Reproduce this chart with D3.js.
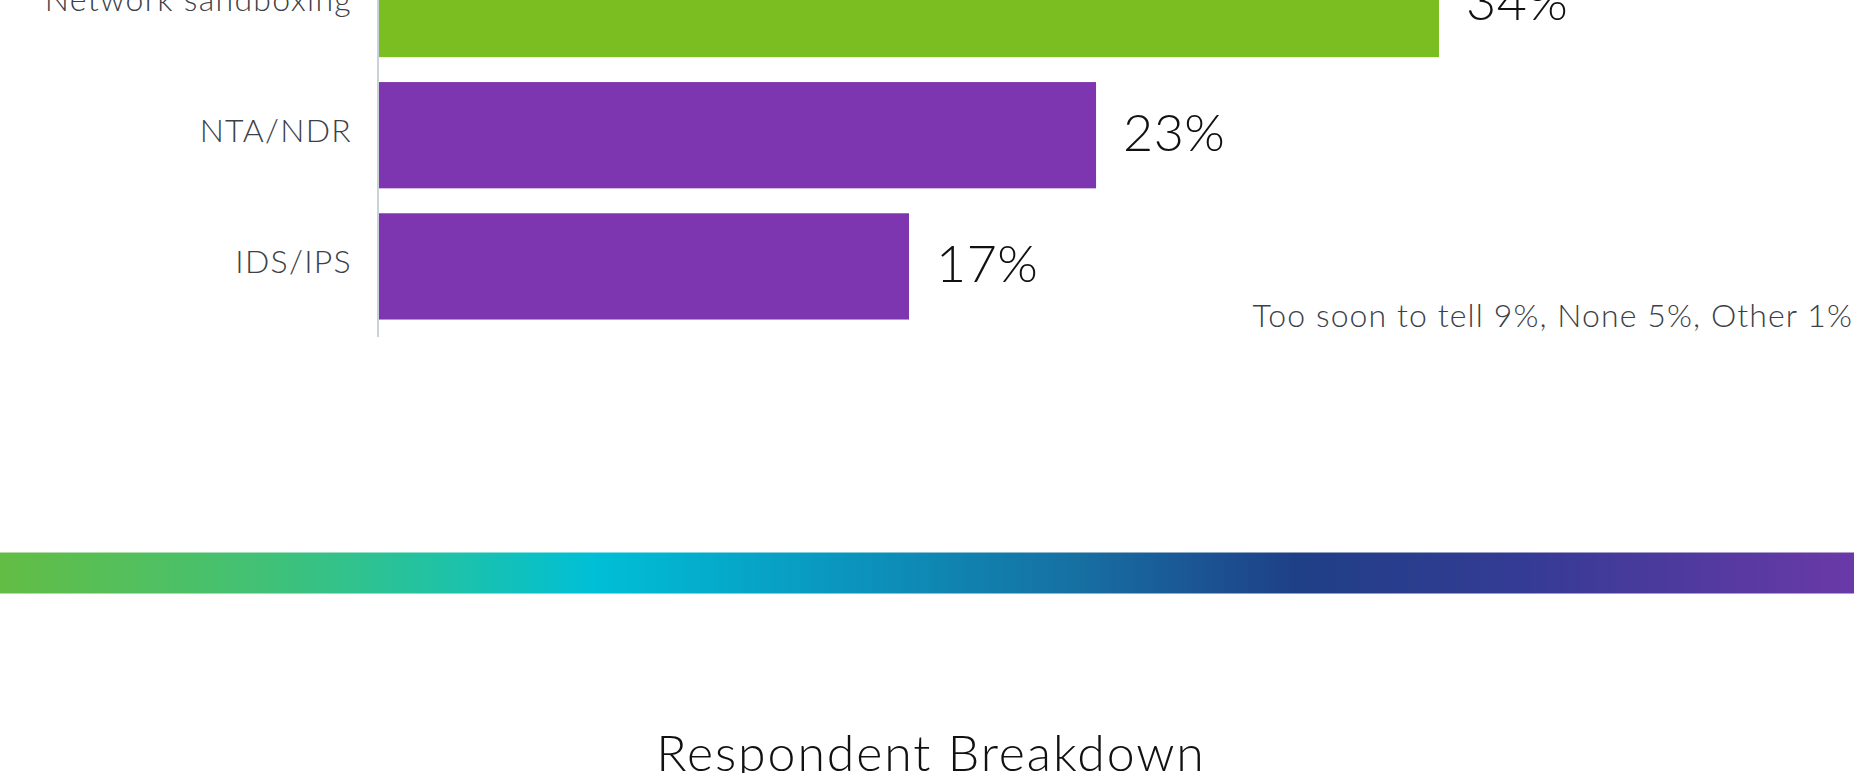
<!DOCTYPE html>
<html>
<head>
<meta charset="utf-8">
<script src="https://cdn.jsdelivr.net/npm/d3@7"></script>
<style>
  html, body { margin: 0; padding: 0; background: #ffffff; overflow: hidden; }
  svg { display: block; }
</style>
</head>
<body>
<svg id="chart" width="1854" height="773"></svg>
<script>
// Network detection tools in use (share of respondents, %)
const categories = ["Network sandboxing", "NTA/NDR", "IDS/IPS"];
const values = [34, 23, 17];
const barColors = ["#7bbe21", "#7e35b0", "#7e35b0"];
const footnote = "Too soon to tell 9%, None 5%, Other 1%";
const sectionTitle = "Respondent Breakdown";

// Brand gradient band separating the sections
const gradientStops = [
  { offset: 0.00, color: "#63bd44" },
  { offset: 0.14, color: "#42c175" },
  { offset: 0.24, color: "#1fc2a6" },
  { offset: 0.32, color: "#00bfd6" },
  { offset: 0.45, color: "#0a97bf" },
  { offset: 0.58, color: "#1670a2" },
  { offset: 0.70, color: "#1f3f87" },
  { offset: 0.82, color: "#343b94" },
  { offset: 1.00, color: "#6a39a8" }
];

const W = 1854, H = 773;
const svg = d3.select("#chart");
const FONT = "Lato, 'Open Sans', sans-serif";

// --- bar chart -------------------------------------------------------------
const axisX = 379;
const x = d3.scaleLinear().domain([0, 34]).range([axisX, 1439]);
const y = d3.scaleBand()
  .domain(categories)
  .range([-61.6, 332])
  .paddingInner(0.19)
  .paddingOuter(0.095);

const chart = svg.append("g");

chart.selectAll("rect.bar")
  .data(categories)
  .join("rect")
  .attr("class", "bar")
  .attr("x", x(0))
  .attr("y", d => y(d))
  .attr("width", (d, i) => x(values[i]) - x(0))
  .attr("height", y.bandwidth())
  .attr("fill", (d, i) => barColors[i]);

// vertical baseline
chart.append("line")
  .attr("x1", axisX - 1).attr("x2", axisX - 1)
  .attr("y1", -70).attr("y2", 337)
  .attr("stroke", "#c9d1d9")
  .attr("stroke-width", 2);

// category labels
const yAxis = d3.axisLeft(y).tickSize(0).tickPadding(0);
const yg = chart.append("g")
  .attr("transform", `translate(${axisX - 27},0)`)
  .call(yAxis);
yg.select(".domain").remove();
yg.selectAll(".tick text")
  .attr("x", 0)
  .attr("dy", null)
  .attr("y", 6.8)
  .attr("text-anchor", "end")
  .attr("fill", "#3b4148")
  .style("font-family", FONT)
  .style("font-size", "32px")
  .style("font-weight", 300)
  .style("letter-spacing", "1.3px");

// value labels
chart.selectAll("text.value")
  .data(categories)
  .join("text")
  .attr("class", "value")
  .attr("x", (d, i) => x(values[i]) + 27)
  .attr("y", d => y(d) + y.bandwidth() / 2 + 15.7)
  .attr("fill", "#111111")
  .style("font-family", FONT)
  .style("font-size", "52px")
  .style("font-weight", 300)
  .style("letter-spacing", "0.5px")
  .text((d, i) => values[i] + "%");

// footnote with remaining answers
svg.append("text")
  .attr("x", 1853)
  .attr("y", 327)
  .attr("text-anchor", "end")
  .attr("fill", "#3b4148")
  .style("font-family", FONT)
  .style("font-size", "32px")
  .style("font-weight", 300)
  .style("letter-spacing", "1.1px")
  .text(footnote);

// --- gradient band -----------------------------------------------------------
const grad = svg.append("defs").append("linearGradient")
  .attr("id", "band")
  .attr("x1", "0%").attr("x2", "100%")
  .attr("y1", "0%").attr("y2", "0%");
grad.selectAll("stop")
  .data(gradientStops)
  .join("stop")
  .attr("offset", d => d.offset)
  .attr("stop-color", d => d.color);

svg.append("rect")
  .attr("x", 0).attr("y", 552.5)
  .attr("width", W).attr("height", 41)
  .attr("fill", "url(#band)");

// --- next section heading ---------------------------------------------------
svg.append("text")
  .attr("x", 931)
  .attr("y", 771)
  .attr("text-anchor", "middle")
  .attr("fill", "#111111")
  .style("font-family", FONT)
  .style("font-size", "50px")
  .style("font-weight", 300)
  .style("letter-spacing", "1.9px")
  .text(sectionTitle);
</script>
</body>
</html>
